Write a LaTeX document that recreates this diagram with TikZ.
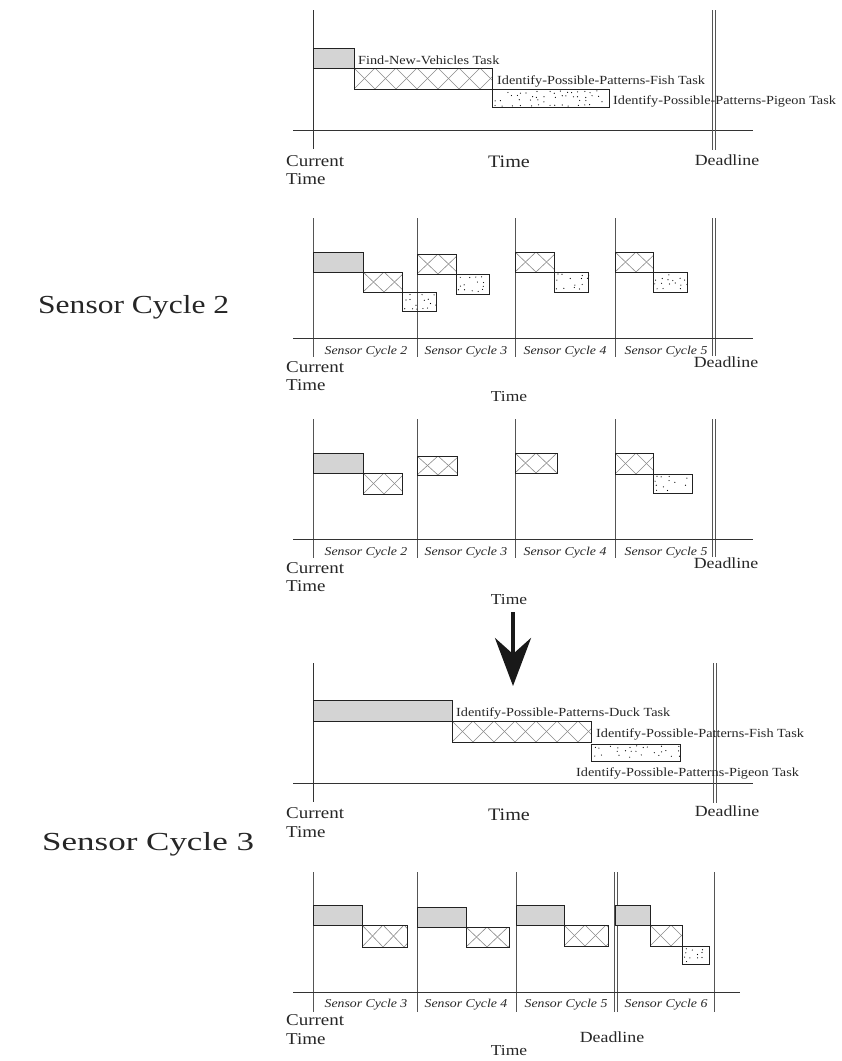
\documentclass[tikz,border=0pt]{standalone}
\usepackage{fontspec}
\setmainfont{Liberation Serif}[FakeStretch=1.15]
\usetikzlibrary{arrows.meta}
\definecolor{axisc}{HTML}{333333}
\definecolor{sepc}{HTML}{555555}
\definecolor{boxc}{HTML}{222222}
\definecolor{hatchc}{HTML}{8A8A8A}
\definecolor{grayfill}{HTML}{D4D4D4}
\tikzset{
  axisline/.style={draw=axisc, line width=1pt},
  sepline/.style={draw=sepc, line width=0.9pt},
  boxline/.style={draw=boxc, line width=0.9pt},
  hatchline/.style={draw=hatchc, line width=0.6pt},
  tasklbl/.style={font=\fontsize{12.4}{14}\selectfont, inner sep=0pt, anchor=base west, text=black!85},
  cyclbl/.style={font=\fontsize{12}{14}\selectfont\itshape, inner sep=0pt, anchor=base, text=black!85},
  curlbl/.style={font=\fontsize{16.5}{18}\selectfont, inner sep=0pt, anchor=base west, text=black!85},
  bigtime/.style={font=\fontsize{17.5}{20}\selectfont, inner sep=0pt, anchor=base, text=black!85},
  smalltime/.style={font=\fontsize{15.2}{18}\selectfont, inner sep=0pt, anchor=base, text=black!85},
  deadlbl/.style={font=\fontsize{15.5}{18}\selectfont, inner sep=0pt, anchor=base, text=black!85},
  sidelbl/.style={font=\fontsize{26}{30}\selectfont, inner sep=0pt, anchor=base west, text=black!85},
}
\newcommand\grayboxx[4]{\filldraw[boxline, fill=grayfill] (#1,#2) rectangle (#3,#4);}
\newcommand\hatchboxx[4]{%
  \begin{scope}
    \clip (#1,#2) rectangle (#3,#4);
    \foreach \i in {-1,0,...,8}{%
      \draw[hatchline] ({#1+\i*21},#2) -- ({#1+\i*21+21},#4);
      \draw[hatchline] ({#1+\i*21+21},#2) -- ({#1+\i*21},#4);
    }
  \end{scope}
  \draw[boxline] (#1,#2) rectangle (#3,#4);}
\newcommand\dotboxx[4]{%
  \pgfmathtruncatemacro\nxx{(#3-#1-4)/6}
  \pgfmathtruncatemacro\nyy{(#4-#2-4)/4.5}
  \foreach \gx in {0,...,\nxx}{%
    \foreach \gy in {0,...,\nyy}{%
      \pgfmathsetmacro\keep{rnd}
      \ifdim\keep pt<0.6pt
        \pgfmathsetmacro\dxx{#1+3+\gx*6+1.6*rand}
        \pgfmathsetmacro\dyy{#2+3+\gy*4.5+1.2*rand}
        \fill[black] (\dxx,\dyy) circle (0.6pt);
      \fi
    }
  }
  \draw[boxline] (#1,#2) rectangle (#3,#4);}
\begin{document}
\begin{tikzpicture}[x=1pt,y=-1pt]
\pgfmathsetseed{12345}
\useasboundingbox (0,0) rectangle (842,1061);
\fill[white] (0,0) rectangle (842,1061);

% ---------------- Panel 1 ----------------
\coordinate (p1vt) at (313,10); \coordinate (p1vb) at (313,149);
\coordinate (p1al) at (293,130); \coordinate (p1ar) at (753,130);
\draw[axisline] (p1vt) -- (p1vb);
\draw[axisline] (p1al) -- (p1ar);
\coordinate (p1d1t) at (712.8,10); \coordinate (p1d1b) at (712.8,150);
\coordinate (p1d2t) at (715.8,10); \coordinate (p1d2b) at (715.8,150);
\draw[sepline] (p1d1t) -- (p1d1b);
\draw[sepline] (p1d2t) -- (p1d2b);
\grayboxx{313}{48}{354}{68}
\hatchboxx{354}{68}{492}{89}
\dotboxx{492}{89}{609}{107}
\node[tasklbl] (p1t1) at (358,64) {Find-New-Vehicles Task};
\node[tasklbl] (p1t2) at (497,84) {Identify-Possible-Patterns-Fish Task};
\node[tasklbl] (p1t3) at (613,104) {Identify-Possible-Patterns-Pigeon Task};
\node[curlbl] (p1cur) at (286,166) {Current};
\node[curlbl] (p1curt) at (286,184) {Time};
\node[bigtime] (p1time) at (509,167) {Time};
\node[deadlbl] (p1dead) at (727,165) {Deadline};

% ---------------- Panel 2 ----------------
\foreach \xx/\nm in {313/a,417/b,515/c,615/d}{
  \coordinate (p2\nm t) at (\xx,218); \coordinate (p2\nm b) at (\xx,357);
  \draw[sepline] (p2\nm t) -- (p2\nm b);
}
\coordinate (p2d1t) at (712.3,218); \coordinate (p2d1b) at (712.3,356);
\coordinate (p2d2t) at (715.3,218); \coordinate (p2d2b) at (715.3,356);
\draw[sepline] (p2d1t) -- (p2d1b);
\draw[sepline] (p2d2t) -- (p2d2b);
\coordinate (p2al) at (293,338); \coordinate (p2ar) at (753,338);
\draw[axisline] (p2al) -- (p2ar);
\grayboxx{313}{252}{363}{272}
\hatchboxx{363}{272}{402}{292}
\dotboxx{402}{292}{436}{311}
\hatchboxx{417}{254}{456}{274}
\dotboxx{456}{274}{489}{294}
\hatchboxx{515}{252}{554}{272}
\dotboxx{554}{272}{588}{292}
\hatchboxx{615}{252}{653}{272}
\dotboxx{653}{272}{687}{292}
\node[cyclbl] (p2c2) at (366,354) {Sensor Cycle 2};
\node[cyclbl] (p2c3) at (466,354) {Sensor Cycle 3};
\node[cyclbl] (p2c4) at (565,354) {Sensor Cycle 4};
\node[cyclbl] (p2c5) at (666,354) {Sensor Cycle 5};
\node[curlbl] (p2cur) at (286,372) {Current};
\node[curlbl] (p2curt) at (286,390) {Time};
\node[smalltime] (p2time) at (509,401) {Time};
\node[deadlbl] (p2dead) at (726,367) {Deadline};
\node[sidelbl] (side2) at (38,313) {\scalebox{1.055}[1]{Sensor Cycle 2}};

% ---------------- Panel 3 ----------------
\foreach \xx/\nm in {313/a,417/b,515/c,615/d}{
  \coordinate (p3\nm t) at (\xx,419); \coordinate (p3\nm b) at (\xx,558);
  \draw[sepline] (p3\nm t) -- (p3\nm b);
}
\coordinate (p3d1t) at (712.3,419); \coordinate (p3d1b) at (712.3,557);
\coordinate (p3d2t) at (715.3,419); \coordinate (p3d2b) at (715.3,557);
\draw[sepline] (p3d1t) -- (p3d1b);
\draw[sepline] (p3d2t) -- (p3d2b);
\coordinate (p3al) at (293,539); \coordinate (p3ar) at (753,539);
\draw[axisline] (p3al) -- (p3ar);
\grayboxx{313}{453}{363}{473}
\hatchboxx{363}{473}{402}{494}
\hatchboxx{417}{456}{457}{475}
\hatchboxx{515}{453}{557}{473}
\hatchboxx{615}{453}{653}{474}
\dotboxx{653}{474}{692}{493}
\node[cyclbl] (p3c2) at (366,555) {Sensor Cycle 2};
\node[cyclbl] (p3c3) at (466,555) {Sensor Cycle 3};
\node[cyclbl] (p3c4) at (565,555) {Sensor Cycle 4};
\node[cyclbl] (p3c5) at (666,555) {Sensor Cycle 5};
\node[curlbl] (p3cur) at (286,573) {Current};
\node[curlbl] (p3curt) at (286,591) {Time};
\node[smalltime] (p3time) at (509,604) {Time};
\node[deadlbl] (p3dead) at (726,568) {Deadline};

% ---------------- Arrow ----------------
\coordinate (arrtop) at (513,612);
\coordinate (arrtip) at (513,686);
\draw[line width=4.6pt, draw=black!90, -{Stealth[length=48pt,width=36pt,inset=16pt]}] (arrtop) -- (arrtip);

% ---------------- Panel 4 ----------------
\coordinate (p4vt) at (313,663); \coordinate (p4vb) at (313,802);
\coordinate (p4al) at (293,783); \coordinate (p4ar) at (753,783);
\draw[axisline] (p4vt) -- (p4vb);
\draw[axisline] (p4al) -- (p4ar);
\coordinate (p4d1t) at (713.3,663); \coordinate (p4d1b) at (713.3,803);
\coordinate (p4d2t) at (716.3,663); \coordinate (p4d2b) at (716.3,803);
\draw[sepline] (p4d1t) -- (p4d1b);
\draw[sepline] (p4d2t) -- (p4d2b);
\grayboxx{313}{700}{452}{721}
\hatchboxx{452}{721}{591}{742}
\dotboxx{591}{744}{680}{761}
\node[tasklbl] (p4t1) at (456,716) {Identify-Possible-Patterns-Duck Task};
\node[tasklbl] (p4t2) at (596,737) {Identify-Possible-Patterns-Fish Task};
\node[tasklbl] (p4t3) at (576,776) {Identify-Possible-Patterns-Pigeon Task};
\node[curlbl] (p4cur) at (286,818) {Current};
\node[curlbl] (p4curt) at (286,837) {Time};
\node[bigtime] (p4time) at (509,820) {Time};
\node[deadlbl] (p4dead) at (727,816) {Deadline};
\node[sidelbl] (side3) at (42,850) {\scalebox{1.17}[1]{Sensor Cycle 3}};

% ---------------- Panel 5 ----------------
\foreach \xx/\nm in {313/a,417/b,516/c,714/e}{
  \coordinate (p5\nm t) at (\xx,872); \coordinate (p5\nm b) at (\xx,1012);
  \draw[sepline] (p5\nm t) -- (p5\nm b);
}
\coordinate (p5d1t) at (614.3,872); \coordinate (p5d1b) at (614.3,1012);
\coordinate (p5d2t) at (617.3,872); \coordinate (p5d2b) at (617.3,1012);
\draw[sepline] (p5d1t) -- (p5d1b);
\draw[sepline] (p5d2t) -- (p5d2b);
\coordinate (p5al) at (293,992); \coordinate (p5ar) at (740,992);
\draw[axisline] (p5al) -- (p5ar);
\grayboxx{313}{905}{362}{925}
\hatchboxx{362}{925}{407}{947}
\grayboxx{417}{907}{466}{927}
\hatchboxx{466}{927}{509}{947}
\grayboxx{516}{905}{564}{925}
\hatchboxx{564}{925}{608}{946}
\grayboxx{615}{905}{650}{925}
\hatchboxx{650}{925}{682}{946}
\dotboxx{682}{946}{709}{964}
\node[cyclbl] (p5c3) at (366,1007) {Sensor Cycle 3};
\node[cyclbl] (p5c4) at (466,1007) {Sensor Cycle 4};
\node[cyclbl] (p5c5) at (566,1007) {Sensor Cycle 5};
\node[cyclbl] (p5c6) at (666,1007) {Sensor Cycle 6};
\node[curlbl] (p5cur) at (286,1025) {Current};
\node[curlbl] (p5curt) at (286,1044) {Time};
\node[smalltime] (p5time) at (509,1055) {Time};
\node[deadlbl] (p5dead) at (612,1042) {Deadline};
\end{tikzpicture}
\end{document}
